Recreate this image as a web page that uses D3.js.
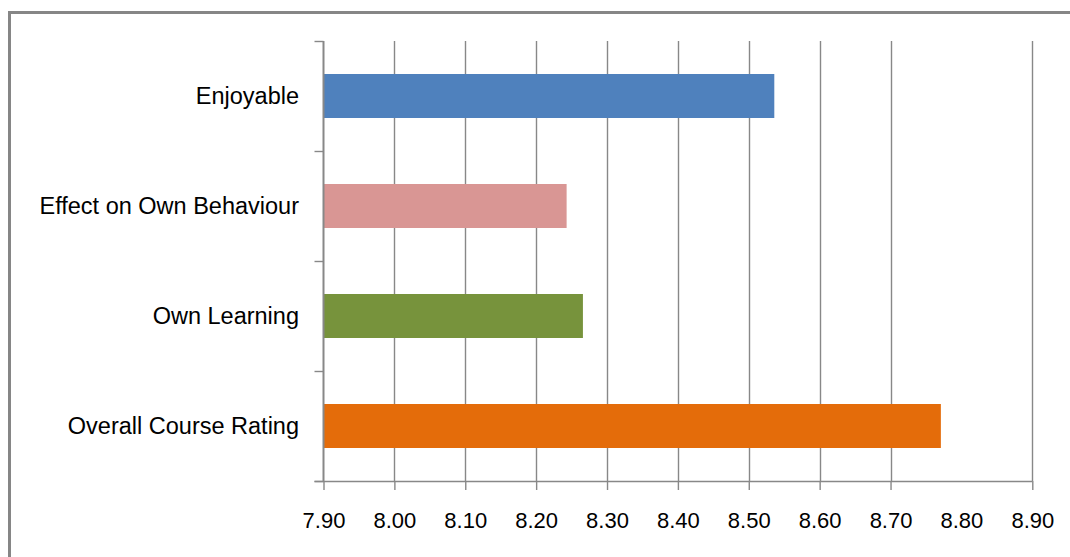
<!DOCTYPE html>
<html>
<head>
<meta charset="utf-8">
<script src="https://cdn.jsdelivr.net/npm/d3@7"></script>
<style>
  html, body { margin: 0; padding: 0; background: #fff; }
  svg { display: block; }
  text { font-family: "Liberation Sans", Arial, sans-serif; fill: #000; }
</style>
</head>
<body>
<svg id="chart" width="1070" height="557"></svg>
<script>
// Course evaluation: average score per item
const categories = ["Enjoyable", "Effect on Own Behaviour", "Own Learning", "Overall Course Rating"];
const scores = [8.536, 8.243, 8.266, 8.771];
const barColors = ["#4F81BD", "#D99694", "#77933C", "#E46C0A"];
const tickValues = [7.90, 8.00, 8.10, 8.20, 8.30, 8.40, 8.50, 8.60, 8.70, 8.80, 8.90];

const svg = d3.select("#chart");
const W = 1070, H = 557;
const plot = { left: 323.5, right: 1032.3, top: 41, bottom: 481 };
const gridColor = "#888888";

// outer frame (runs off the right and bottom edges)
svg.append("rect")
  .attr("x", 9.5).attr("y", 12.5)
  .attr("width", W + 20).attr("height", H + 20)
  .attr("fill", "none")
  .attr("stroke", "#868686")
  .attr("stroke-width", 3);

const x = d3.scaleLinear()
  .domain([tickValues[0], tickValues[tickValues.length - 1]])
  .range([plot.left, plot.right]);

const y = d3.scaleBand()
  .domain(categories)
  .range([plot.top, plot.bottom])
  .paddingInner(0.6)
  .paddingOuter(0.3);

// vertical gridlines
svg.append("g")
  .selectAll("line")
  .data(tickValues.slice(1).filter(v => Math.abs(v - 8.80) > 1e-9))
  .join("line")
  .attr("x1", d => Math.round(x(d)) + 0.5)
  .attr("x2", d => Math.round(x(d)) + 0.5)
  .attr("y1", plot.top)
  .attr("y2", plot.bottom)
  .attr("stroke", gridColor)
  .attr("stroke-width", 1.4);

// bars
svg.append("g")
  .selectAll("rect")
  .data(categories)
  .join("rect")
  .attr("x", x(tickValues[0]) + 0.5)
  .attr("y", d => y(d))
  .attr("width", (d, i) => x(scores[i]) - x(tickValues[0]) - 0.5)
  .attr("height", y.bandwidth())
  .attr("fill", (d, i) => barColors[i]);

// bottom value axis
const xAxis = d3.axisBottom(x)
  .tickValues(tickValues)
  .tickFormat(d3.format(".2f"))
  .tickSizeInner(9)
  .tickSizeOuter(0)
  .tickPadding(22);
const gx = svg.append("g")
  .attr("transform", `translate(0,${plot.bottom})`)
  .call(xAxis);
gx.select(".domain")
  .attr("stroke", gridColor)
  .attr("stroke-width", 1.4)
  .attr("d", `M${plot.left - 9},0.5H${plot.right}`);
gx.selectAll(".tick line").attr("stroke", gridColor).attr("stroke-width", 1.4);
gx.selectAll(".tick").filter(d => Math.abs(d - 8.80) < 1e-9).select("line").remove();
gx.selectAll(".tick text")
  .attr("font-size", 22)
  .attr("font-family", "\"Liberation Sans\", Arial, sans-serif")
  .attr("fill", "#000");

// left category axis with ticks at band boundaries
const gy = svg.append("g");
gy.append("line")
  .attr("x1", plot.left).attr("x2", plot.left)
  .attr("y1", plot.top).attr("y2", plot.bottom)
  .attr("stroke", gridColor).attr("stroke-width", 2);
const step = (plot.bottom - plot.top) / categories.length;
gy.selectAll("line.tick")
  .data(d3.range(categories.length + 1))
  .join("line")
  .attr("class", "tick")
  .attr("x1", plot.left - 9).attr("x2", plot.left)
  .attr("y1", i => plot.top + i * step + 0.5)
  .attr("y2", i => plot.top + i * step + 0.5)
  .attr("stroke", gridColor).attr("stroke-width", 1.4);
gy.selectAll("text")
  .data(categories)
  .join("text")
  .attr("x", 299)
  .attr("y", d => y(d) + y.bandwidth() / 2)
  .attr("dy", "0.35em")
  .attr("text-anchor", "end")
  .attr("font-size", 23.5)
  .text(d => d);
</script>
</body>
</html>
